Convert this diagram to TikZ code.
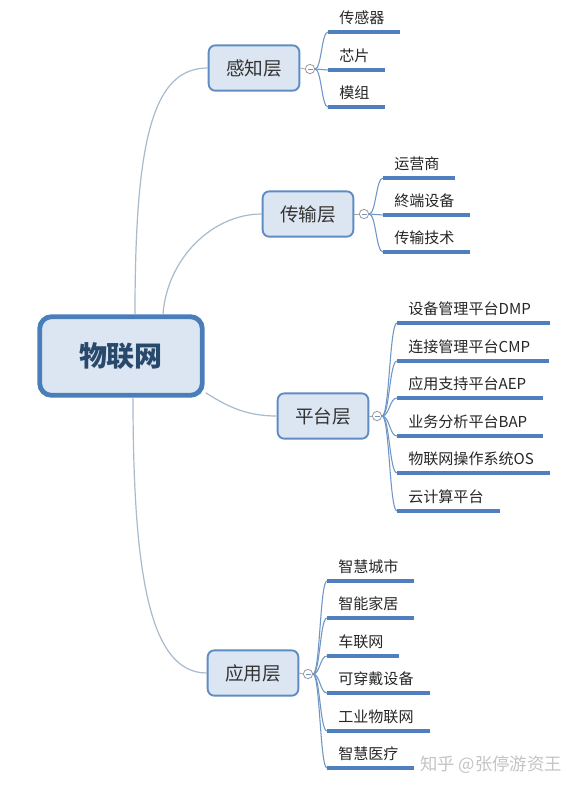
\documentclass[tikz,border=0pt]{standalone}
\usepackage{fontspec}
\newfontfamily\cjk{Noto Sans CJK SC}
\usetikzlibrary{calc}
\definecolor{boxfill}{HTML}{DCE6F2}
\definecolor{rootborder}{HTML}{4A7EBB}
\definecolor{layborder}{HTML}{5F8CC4}
\definecolor{leafblue}{HTML}{4F7FBF}
\definecolor{brk}{HTML}{6E96C8}
\definecolor{conn}{HTML}{A8BACD}
\definecolor{roottext}{HTML}{28496C}
\definecolor{wm}{HTML}{C4C4C4}
\tikzset{
  rootbox/.style={draw=rootborder, fill=boxfill, line width=3.6pt, rounded corners=9pt,
    minimum width=122pt, minimum height=59pt, font=\cjk\fontsize{21}{24}\selectfont\bfseries, text=roottext},
  laybox/.style={draw=layborder, fill=boxfill, line width=1.4pt, rounded corners=5pt,
    minimum width=68pt, minimum height=34pt, font=\cjk\fontsize{14}{16}\selectfont, text=black!80},
  leaftext/.style={font=\cjk\fontsize{11.3}{13}\selectfont, text=black!85, inner sep=0pt},
  leafline/.style={draw=leafblue, line width=2.4pt},
  bracket/.style={draw=brk, line width=0.8pt},
  circ/.style={circle, draw=gray!80, fill=white, line width=0.6pt, minimum size=7pt, inner sep=0pt},
  mainconn/.style={draw=conn, line width=0.9pt},
}
\newcommand{\mmleaf}[6]{%
  \coordinate (#1s) at (#4,#3);
  \coordinate (#1e) at (#5,#3);
  \node[leaftext, anchor=base west] (#1) at ($(#1s)+(11,-9)$) {#6};
  \draw[leafline] (#1s) -- (#1e);
  \coordinate (#1m) at ($(#2.east)!0.5!(#1s)$);
  \draw[bracket] (#2.east) .. controls (#1m |- #2.east) and (#1m |- #1s) .. (#1s);
}
\newcommand{\mmcirc}[4]{% name, layer node, x, y
  \node[circ] (#1) at (#3,#4) {};
  \draw[brk, line width=0.6pt] ($(#1.center)+(-2.5,0)$) -- ($(#1.center)+(2.5,0)$);
  \draw[gray!70, line width=0.6pt] (#2.east) -- (#1.west);
}
\begin{document}
\begin{tikzpicture}[x=0.75pt, y=-0.75pt]
\useasboundingbox[fill=white] (0,0) rectangle (578,790);

% root
\node[rootbox] (root) at (121,356) {物联网};

% layers
\node[laybox] (L1) at (254,68) {感知层};
\node[laybox] (L2) at (308,214) {传输层};
\node[laybox] (L3) at (323,416) {平台层};
\node[laybox] (L4) at (253,673) {应用层};

% main connectors
\draw[mainconn] ($(root.north)+(14,0)$) .. controls +(0,-175) and +(-55,0) .. (L1.west);
\draw[mainconn] ($(root.north)+(42,0)$) .. controls +(4,-55) and +(-50,0) .. (L2.west);
\draw[mainconn] ($(root.south east)+(1,-5)$) .. controls +(22,14) and +(-30,0) .. (L3.west);
\draw[mainconn] ($(root.south)+(12,0)$) .. controls +(0,185) and +(-55,0) .. (L4.west);

% circles
\mmcirc{c1}{L1}{310}{69}
\mmcirc{c2}{L2}{364}{214}
\mmcirc{c3}{L3}{377}{416}
\mmcirc{c4}{L4}{308}{674}

% leaves of 感知层
\mmleaf{a1}{c1}{32}{328}{400}{传感器}
\mmleaf{a2}{c1}{70}{328}{385}{芯片}
\mmleaf{a3}{c1}{107}{328}{385}{模组}

% leaves of 传输层
\mmleaf{b1}{c2}{178}{383}{455}{运营商}
\mmleaf{b2}{c2}{215}{383}{470}{終端设备}
\mmleaf{b3}{c2}{252}{383}{470}{传输技术}

% leaves of 平台层
\mmleaf{p1}{c3}{323}{397}{550}{设备管理平台DMP}
\mmleaf{p2}{c3}{361}{397}{549}{连接管理平台CMP}
\mmleaf{p3}{c3}{398}{397}{543}{应用支持平台AEP}
\mmleaf{p4}{c3}{436}{397}{543}{业务分析平台BAP}
\mmleaf{p5}{c3}{473}{397}{550}{物联网操作系统OS}
\mmleaf{p6}{c3}{511}{397}{500}{云计算平台}

% leaves of 应用层
\mmleaf{d1}{c4}{581}{327}{414}{智慧城市}
\mmleaf{d2}{c4}{618}{327}{414}{智能家居}
\mmleaf{d3}{c4}{656}{327}{399}{车联网}
\mmleaf{d4}{c4}{693}{327}{430}{可穿戴设备}
\mmleaf{d5}{c4}{731}{327}{430}{工业物联网}
\mmleaf{d6}{c4}{768}{327}{414}{智慧医疗}

% watermark
\node[font=\cjk\fontsize{13}{15}\selectfont, text=wm, anchor=west, inner sep=0pt] (wmark) at (420,765) {知乎 @张停游资王};
\end{tikzpicture}
\end{document}
